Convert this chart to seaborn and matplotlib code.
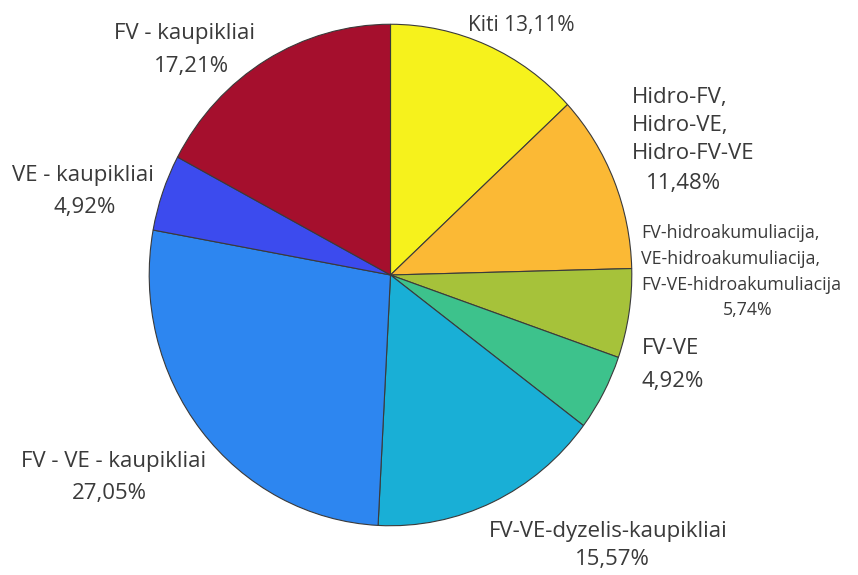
import matplotlib
matplotlib.use("Agg")
import matplotlib.pyplot as plt
import seaborn as sns

# Slices go clockwise from 12 o'clock
categories = ["Kiti", "Hidro-FV,\nHidro-VE,\nHidro-FV-VE",
              "FV-hidroakumuliacija,\nVE-hidroakumuliacija,\nFV-VE-hidroakumuliacija",
              "FV-VE", "FV-VE-dyzelis-kaupikliai", "FV - VE - kaupikliai",
              "VE - kaupikliai", "FV - kaupikliai"]
shares = [13.11, 11.48, 5.74, 4.92, 15.57, 27.05, 4.92, 17.21]
colors = ["#F6F21C", "#FBB935", "#A6C23A", "#3DC28C", "#19AFD6", "#2D86F0",
          "#3C4BEE", "#A50F2D"]

sns.set_theme(style="white")
plt.rcParams['font.family'] = ['Open Sans', 'DejaVu Sans']

W, H = 858, 575
fig = plt.figure(figsize=(W / 100, H / 100), dpi=100)
# pie box in pixels: left 148, right 633, top 23, bottom 527
ax = fig.add_axes([148 / W, 1 - 527 / H, (633 - 148) / W, (527 - 23) / H])
ax.pie(shares, colors=colors, startangle=90, counterclock=False,
       wedgeprops=dict(edgecolor="#3a3a3a", linewidth=0.8))
ax.set_aspect("auto")
ax.set_xlim(-1.005, 1.005)
ax.set_ylim(-1.005, 1.005)
ax.axis("off")


def pct(v):
    return f"{v:.2f}".replace(".", ",") + "%"


def put(x, y, s, size=16, ha="left"):
    fig.text(x / W, 1 - y / H, s, fontsize=size, ha=ha, va="center",
             color="#3a3a3a")


def put_lines(x, ys, s, size=16, ha="left"):
    for y, line in zip(ys, s.split("\n")):
        put(x, y, line, size, ha)


put(521, 25, "Kiti " + pct(shares[0]), size=15, ha="center")

put_lines(632, [97, 125, 153], categories[1])
put(684, 183, pct(shares[1]), ha="center")

put_lines(641, [233, 259, 285], categories[2], size=12.8)
put(748, 310, pct(shares[2]), size=12.8, ha="center")

put(642, 348, categories[3])
put(642, 382, pct(shares[3]))

put(608, 531, categories[4], ha="center")
put(612, 560, pct(shares[4]), ha="center")

put(114, 462, categories[5], ha="center")
put(109, 493, pct(shares[5]), ha="center")

put(83, 175, categories[6], ha="center")
put(85, 208, pct(shares[6]), ha="center")

put(184, 33, categories[7], ha="center")
put(191, 67, pct(shares[7]), ha="center")

fig.savefig("out.png", dpi=100)
